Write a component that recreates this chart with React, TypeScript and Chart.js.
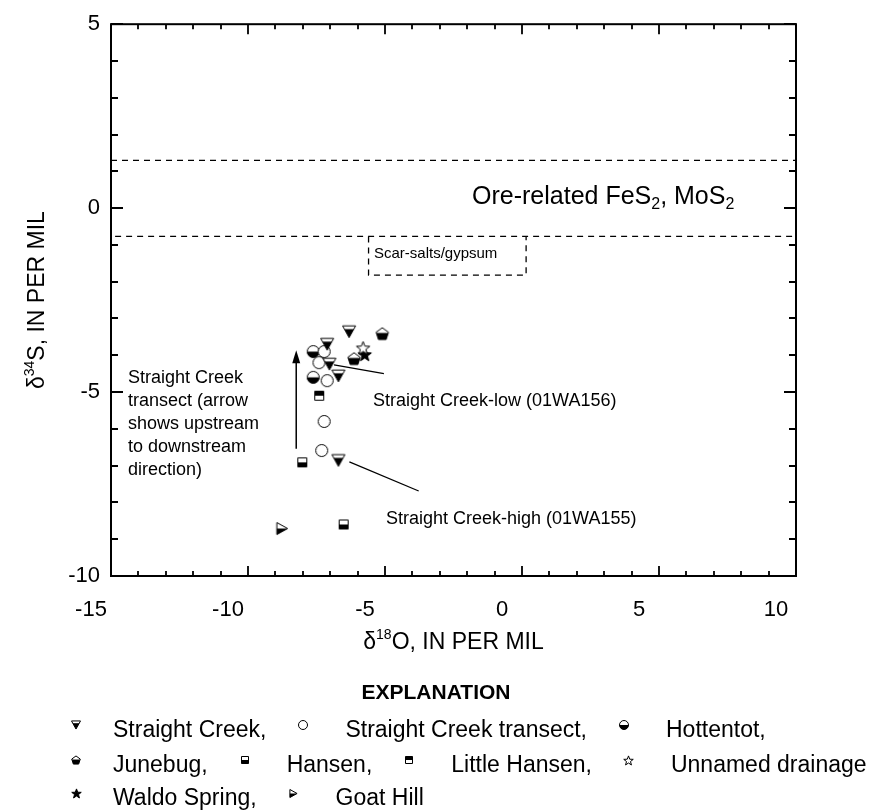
import React, { useEffect, useRef } from "react";
import { Chart, registerables } from "chart.js";

Chart.register(...registerables);

// ---------------- data ----------------
const X_MIN = -15;
const X_MAX = 10;
const Y_MIN = -10;
const Y_MAX = 5;
const X_STEP = 5;
const Y_STEP = 5;

const SERIES_NAMES = [
  "Straight Creek",
  "Straight Creek transect",
  "Hottentot",
  "Junebug",
  "Hansen",
  "Little Hansen",
  "Unnamed drainage",
  "Waldo Spring",
  "Goat Hill",
];
const LEGEND_TEXT = [
  "Straight Creek,",
  "Straight Creek transect,",
  "Hottentot,",
  "Junebug,",
  "Hansen,",
  "Little Hansen,",
  "Unnamed drainage",
  "Waldo Spring,",
  "Goat Hill",
];

const straightCreek = [
  { x: -6.31, y: -3.36 },
  { x: -7.11, y: -3.7 },
  { x: -7.03, y: -4.24 },
  { x: -6.7, y: -4.56 },
  { x: -6.7, y: -6.86 },
];
const straightCreekTransect = [
  { x: -7.22, y: -3.9 },
  { x: -7.41, y: -4.2 },
  { x: -7.11, y: -4.69 },
  { x: -7.22, y: -5.8 },
  { x: -7.31, y: -6.59 },
];
const hottentot = [
  { x: -7.62, y: -3.9 },
  { x: -7.62, y: -4.6 },
];
const junebug = [
  { x: -5.1, y: -3.41 },
  { x: -6.13, y: -4.09 },
];
const hansen = [
  { x: -8.02, y: -6.91 },
  { x: -6.51, y: -8.6 },
];
const littleHansen = [{ x: -7.4, y: -5.1 }];
const unnamedDrainage = [{ x: -5.8, y: -3.8 }];
const waldoSpring = [{ x: -5.74, y: -3.98 }];
const goatHill = [{ x: -8.75, y: -8.71 }];

// reference lines / fields
const ORE_UPPER = 1.3;
const ORE_LOWER = -0.77;
const SCAR_X = [-5.6, 0.15];
const SCAR_BOTTOM = -1.82;

// transect arrow and leader lines
const ARROW = [
  { x: -8.24, y: -6.54 },
  { x: -8.24, y: -3.86 },
];
const LEADER_LOW = [
  { x: -6.86, y: -4.26 },
  { x: -5.04, y: -4.5 },
];
const LEADER_HIGH = [
  { x: -6.3, y: -6.9 },
  { x: -3.77, y: -7.69 },
];

const FONT = '"Liberation Sans", Arial, Helvetica, sans-serif';

type Kind =
  | "triDown"
  | "circle"
  | "circleHalf"
  | "pentagon"
  | "squareBottom"
  | "squareTop"
  | "starOpen"
  | "starFilled"
  | "triRight";

const KINDS: Kind[] = [
  "triDown",
  "circle",
  "circleHalf",
  "pentagon",
  "squareBottom",
  "squareTop",
  "starOpen",
  "starFilled",
  "triRight",
];
const PLOT_SIZES = [13, 12, 12, 13, 9, 9, 14, 14, 12];
const LEGEND_SIZES = [9, 9, 9, 9, 7, 7, 10, 10, 8];

function makeMarker(kind: Kind, s: number): HTMLCanvasElement {
  const pad = 2;
  const W = Math.ceil(s) + pad * 2 + 1;
  const c = document.createElement("canvas");
  c.width = W;
  c.height = W;
  const g = c.getContext("2d")!;
  const o = (W - s) / 2;
  const cx = W / 2;
  const cy = W / 2;
  const path = () => {
    g.beginPath();
    switch (kind) {
      case "triDown":
        g.moveTo(o, o + s * 0.05);
        g.lineTo(o + s, o + s * 0.05);
        g.lineTo(cx, o + s * 0.95);
        g.closePath();
        break;
      case "triRight":
        g.moveTo(o + s * 0.05, o);
        g.lineTo(o + s * 0.95, cy);
        g.lineTo(o + s * 0.05, o + s);
        g.closePath();
        break;
      case "circle":
      case "circleHalf":
        g.arc(cx, cy, s / 2, 0, Math.PI * 2);
        break;
      case "pentagon":
        for (let k = 0; k < 5; k++) {
          const a = -Math.PI / 2 + (k * 2 * Math.PI) / 5;
          const px = cx + (s / 2) * Math.cos(a);
          const py = cy + s * 0.05 + (s / 2) * Math.sin(a);
          if (k === 0) g.moveTo(px, py);
          else g.lineTo(px, py);
        }
        g.closePath();
        break;
      case "squareBottom":
      case "squareTop":
        g.rect(o, o, s, s);
        break;
      case "starOpen":
      case "starFilled":
        for (let k = 0; k < 10; k++) {
          const a = -Math.PI / 2 + (k * Math.PI) / 5;
          const r = k % 2 === 0 ? s / 2 : s * 0.21;
          const px = cx + r * Math.cos(a);
          const py = cy + s * 0.04 + r * Math.sin(a);
          if (k === 0) g.moveTo(px, py);
          else g.lineTo(px, py);
        }
        g.closePath();
        break;
    }
  };
  g.fillStyle = "#fff";
  path();
  g.fill();
  g.save();
  path();
  g.clip();
  g.fillStyle = "#000";
  switch (kind) {
    case "triDown":
      g.fillRect(0, o + s * 0.3, W, W);
      break;
    case "triRight":
    case "circleHalf":
    case "squareBottom":
      g.fillRect(0, cy, W, W);
      break;
    case "pentagon":
      g.fillRect(0, o + s * 0.45, W, W);
      break;
    case "squareTop":
      g.fillRect(0, 0, W, cy);
      break;
    case "starFilled":
      g.fillRect(0, 0, W, W);
      break;
  }
  g.restore();
  g.lineWidth = 1;
  g.strokeStyle = "#000";
  path();
  g.stroke();
  return c;
}

type Part = { t: string; k?: "sup" | "sub" };

function partFont(size: number, k?: string, bold = false) {
  const s = k ? Math.round(size * 0.62) : size;
  return `${bold ? "bold " : ""}${s}px ${FONT}`;
}
function richWidth(ctx: CanvasRenderingContext2D, parts: Part[], size: number) {
  let w = 0;
  for (const p of parts) {
    ctx.font = partFont(size, p.k);
    w += ctx.measureText(p.t).width;
  }
  return w;
}
function drawRich(
  ctx: CanvasRenderingContext2D,
  parts: Part[],
  x: number,
  yMid: number,
  size: number,
  align: "left" | "center" = "left"
): number {
  let cx = x;
  if (align === "center") cx = x - richWidth(ctx, parts, size) / 2;
  const base = yMid + size * 0.35;
  ctx.textAlign = "left";
  ctx.textBaseline = "alphabetic";
  ctx.fillStyle = "#000";
  for (const p of parts) {
    ctx.font = partFont(size, p.k);
    let y = base;
    if (p.k === "sup") y = base - size * 0.42;
    if (p.k === "sub") y = base + size * 0.22;
    ctx.fillText(p.t, cx, y);
    cx += ctx.measureText(p.t).width;
  }
  return cx;
}

// legend layout: series index per row
const LEGEND_ROWS = [
  [0, 1, 2],
  [3, 4, 5, 6],
  [7, 8],
];

export default function App() {
  const ref = useRef<HTMLCanvasElement>(null);

  useEffect(() => {
    const canvas = ref.current;
    if (!canvas) return;
    const plotMarkers = KINDS.map((k, i) => makeMarker(k, PLOT_SIZES[i]));
    const legendMarkers = KINDS.map((k, i) => makeMarker(k, LEGEND_SIZES[i]));
    const seriesData = [
      straightCreek,
      straightCreekTransect,
      hottentot,
      junebug,
      hansen,
      littleHansen,
      unnamedDrainage,
      waldoSpring,
      goatHill,
    ];

    const pointSets = seriesData.map((d, i) => ({
      label: SERIES_NAMES[i],
      data: d,
      pointStyle: plotMarkers[i],
      pointRadius: 6,
      showLine: false,
    }));

    const lineSet = (data: { x: number; y: number }[], dash: number[], width: number) => ({
      label: "",
      data,
      showLine: true,
      borderColor: "#000",
      borderWidth: width,
      borderDash: dash,
      pointRadius: 0,
      fill: false,
      tension: 0,
    });

    const lines = [
      lineSet(
        [
          { x: X_MIN, y: ORE_UPPER },
          { x: X_MAX, y: ORE_UPPER },
        ],
        [6, 5],
        1.3
      ),
      lineSet(
        [
          { x: X_MIN + 0.15, y: ORE_LOWER },
          { x: X_MAX, y: ORE_LOWER },
        ],
        [6, 5],
        1.3
      ),
      lineSet(
        [
          { x: SCAR_X[0], y: ORE_LOWER },
          { x: SCAR_X[0], y: SCAR_BOTTOM },
          { x: SCAR_X[1], y: SCAR_BOTTOM },
          { x: SCAR_X[1], y: ORE_LOWER },
        ],
        [6, 5],
        1.3
      ),
      lineSet([ARROW[0], { x: ARROW[1].x, y: ARROW[1].y - 0.25 }], [], 1.5),
      lineSet(LEADER_LOW, [], 1.3),
      lineSet(LEADER_HIGH, [], 1.3),
    ];

    const decor = {
      id: "decor",
      afterDraw(chart: any) {
        const ctx: CanvasRenderingContext2D = chart.ctx;
        const xs = chart.scales.x;
        const ys = chart.scales.y;
        const { left, right, top, bottom } = chart.chartArea;
        ctx.save();
        // frame
        ctx.strokeStyle = "#000";
        ctx.lineWidth = 2;
        ctx.strokeRect(left, top, right - left, bottom - top);
        // ticks (inward)
        ctx.lineWidth = 1.8;
        ctx.beginPath();
        for (let v = X_MIN; v <= X_MAX; v++) {
          const p = Math.round(xs.getPixelForValue(v));
          const len = v % X_STEP === 0 ? 10 : 5;
          ctx.moveTo(p, bottom);
          ctx.lineTo(p, bottom - len);
          ctx.moveTo(p, top);
          ctx.lineTo(p, top + len);
        }
        for (let v = Y_MIN; v <= Y_MAX; v++) {
          const p = Math.round(ys.getPixelForValue(v));
          const len = v % Y_STEP === 0 ? 12 : 7;
          ctx.moveTo(left, p);
          ctx.lineTo(left + len, p);
          ctx.moveTo(right, p);
          ctx.lineTo(right - len, p);
        }
        ctx.stroke();

        // arrow head
        const ax = xs.getPixelForValue(ARROW[1].x);
        const ay = ys.getPixelForValue(ARROW[1].y);
        ctx.fillStyle = "#000";
        ctx.beginPath();
        ctx.moveTo(ax, ay);
        ctx.lineTo(ax - 4, ay + 13);
        ctx.lineTo(ax + 4, ay + 13);
        ctx.closePath();
        ctx.fill();

        // axis titles
        drawRich(
          ctx,
          [{ t: "δ" }, { t: "18", k: "sup" }, { t: "O, IN PER MIL" }],
          (left + right) / 2,
          641,
          23,
          "center"
        );
        ctx.save();
        ctx.translate(36, (top + bottom) / 2);
        ctx.rotate(-Math.PI / 2);
        drawRich(
          ctx,
          [{ t: "δ" }, { t: "34", k: "sup" }, { t: "S, IN PER MIL" }],
          0,
          0,
          23,
          "center"
        );
        ctx.restore();

        // annotations
        drawRich(
          ctx,
          [
            { t: "Ore-related FeS" },
            { t: "2", k: "sub" },
            { t: ", MoS" },
            { t: "2", k: "sub" },
          ],
          472,
          195,
          25
        );
        drawRich(ctx, [{ t: "Scar-salts/gypsum" }], 374, 253, 15);
        const block = [
          "Straight Creek",
          "transect (arrow",
          "shows upstream",
          "to downstream",
          "direction)",
        ];
        block.forEach((l, i) => drawRich(ctx, [{ t: l }], 128, 377 + i * 23, 18));
        drawRich(ctx, [{ t: "Straight Creek-low (01WA156)" }], 373, 400, 18);
        drawRich(ctx, [{ t: "Straight Creek-high (01WA155)" }], 386, 518, 18);

        // explanation
        ctx.font = `bold 21px ${FONT}`;
        ctx.textAlign = "center";
        ctx.textBaseline = "middle";
        ctx.fillStyle = "#000";
        ctx.fillText("EXPLANATION", 436, 693);

        const LEG_FONT = 23;
        const rowY = [729, 764, 797];
        const firstIcon = 76;
        const firstText = 113;
        LEGEND_ROWS.forEach((row, r) => {
          const y = rowY[r];
          let iconX = firstIcon;
          let textX = firstText;
          row.forEach((i, j) => {
            if (j > 0) {
              iconX = textX + 37;
              textX = iconX + 42;
            }
            const m = legendMarkers[i];
            ctx.drawImage(m, Math.round(iconX - m.width / 2), Math.round(y - 4 - m.height / 2));
            textX = drawRich(ctx, [{ t: LEGEND_TEXT[i] }], textX, y, LEG_FONT);
          });
        });
        ctx.restore();
      },
    };

    const chart = new Chart(canvas, {
      type: "scatter",
      data: { datasets: [...pointSets, ...lines] as any },
      options: {
        animation: false,
        responsive: false,
        maintainAspectRatio: false,
        devicePixelRatio: 1,
        layout: { padding: { left: 0, top: 22, right: 74, bottom: 0 } },
        plugins: {
          legend: { display: false },
          tooltip: { enabled: false },
        },
        scales: {
          x: {
            type: "linear",
            min: X_MIN,
            max: X_MAX,
            grid: { display: false, drawTicks: false },
            border: { display: false },
            ticks: {
              stepSize: X_STEP,
              labelOffset: -20,
              padding: 21,
              color: "#000",
              maxRotation: 0,
              autoSkip: false,
              font: { family: FONT, size: 22 },
            },
            afterFit: (s: any) => {
              s.height = 811 - 576;
            },
          },
          y: {
            type: "linear",
            min: Y_MIN,
            max: Y_MAX,
            grid: { display: false, drawTicks: false },
            border: { display: false },
            ticks: {
              stepSize: Y_STEP,
              padding: 11,
              color: "#000",
              font: { family: FONT, size: 22 },
            },
            afterFit: (s: any) => {
              s.width = 111;
            },
          },
        },
      } as any,
      plugins: [decor],
    });
    return () => chart.destroy();
  }, []);

  return (
    <div
      style={{
        position: "absolute",
        left: 0,
        top: 0,
        width: 870,
        height: 811,
        background: "#fff",
      }}
    >
      <canvas ref={ref} width={870} height={811} style={{ width: 870, height: 811, display: "block" }} />
    </div>
  );
}
